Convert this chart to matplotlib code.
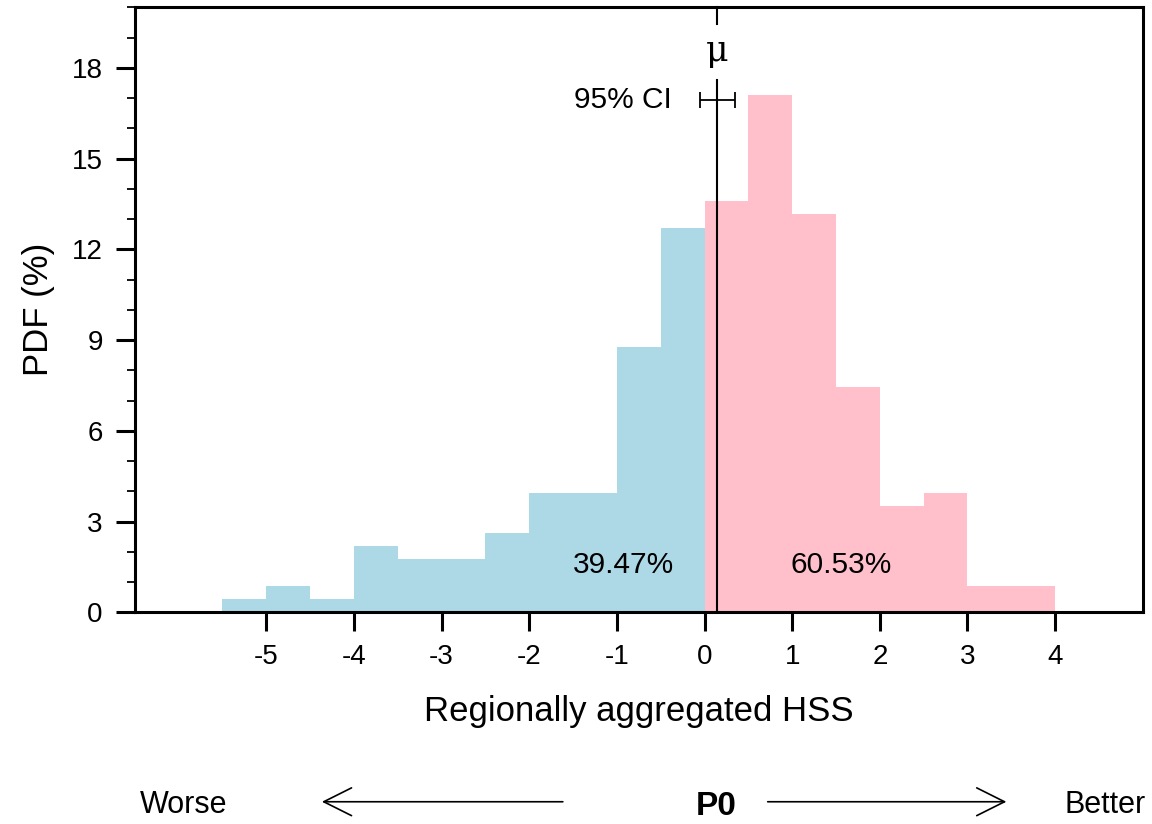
import numpy as np
import matplotlib
matplotlib.use("Agg")
import matplotlib.pyplot as plt

plt.rcParams['font.family'] = ['Liberation Sans', 'DejaVu Sans']

# histogram bins (HSS) and PDF values (%)
bin_edges = [-5.5, -5.0, -4.5, -4.0, -3.5, -3.0, -2.5, -2.0, -1.5, -1.0, -0.5,
             0.0, 0.5, 1.0, 1.5, 2.0, 2.5, 3.0, 3.5, 4.0]
pdf_vals = [0.44, 0.88, 0.44, 2.19, 1.75, 1.75, 2.63, 3.95, 3.95, 8.77, 12.72,
            13.60, 17.11, 13.16, 7.46, 3.51, 3.95, 0.88, 0.88]
mu = 0.14
ci_low, ci_high = -0.05, 0.35
pct_worse = "39.47%"
pct_better = "60.53%"

col_neg = '#add8e6'
col_pos = '#ffc0cb'

fig = plt.figure(figsize=(11.52, 8.24), dpi=100)
ax = fig.add_axes([0.117, 0.257, 0.875, 0.734])

left = np.array(bin_edges[:-1])
widths = np.diff(bin_edges)
colors = [col_neg if l < 0 else col_pos for l in left]
ax.bar(left, pdf_vals, width=widths, align='edge', color=colors, linewidth=0, zorder=1)

# mean line, CI
ax.plot([mu, mu], [0, 17.6], color='black', lw=1.5, zorder=3)
ax.plot([mu, mu], [19.45, 20], color='black', lw=1.5, zorder=3, clip_on=False)
ax.text(mu, 18.55, 'μ', ha='center', va='center', fontsize=25,
        family=['DejaVu Serif'])
ax.errorbar([mu], [16.95], xerr=[[mu - ci_low], [ci_high - mu]], fmt='none',
            ecolor='black', elinewidth=1.3, capsize=6, capthick=1.3, zorder=3)
ax.text(-0.37, 16.95, '95% CI', ha='right', va='center', fontsize=21.5)

ax.text(-0.93, 1.55, pct_worse, ha='center', va='center', fontsize=21.5)
ax.text(1.56, 1.55, pct_better, ha='center', va='center', fontsize=21.5)

ax.set_xlim(-6.5, 5)
ax.set_ylim(0, 20)
ax.set_xticks(np.arange(-5, 5, 1))
ax.set_xticklabels([str(v) for v in range(-5, 5)])
ax.set_yticks(np.arange(0, 19, 3))
ax.set_yticks(np.arange(0, 21, 1), minor=True)
ax.tick_params(axis='both', which='major', direction='out', length=14, width=2.2,
               labelsize=20, pad=9)
ax.tick_params(axis='y', which='minor', direction='out', length=6, width=1.3)
ax.tick_params(axis='x', which='minor', length=0)
for s in ax.spines.values():
    s.set_linewidth(2.2)

ax.set_xlabel('Regionally aggregated HSS', fontsize=25, labelpad=18)
ax.set_ylabel('PDF (%)', fontsize=25, labelpad=12)

# direction annotation at the bottom
fig.text(0.159, 0.023, 'Worse', ha='center', va='center', fontsize=22)
fig.text(0.959, 0.023, 'Better', ha='center', va='center', fontsize=22)
fig.text(0.6215, 0.021, 'P0', ha='center', va='center', fontsize=24, fontweight='bold')
arrow_style = '->,head_length=20,head_width=10'
fig.add_artist(matplotlib.patches.FancyArrowPatch((0.491, 0.027), (0.277, 0.027),
               transform=fig.transFigure, arrowstyle=arrow_style,
               lw=1.2, color='black', mutation_scale=1))
fig.add_artist(matplotlib.patches.FancyArrowPatch((0.664, 0.027), (0.876, 0.027),
               transform=fig.transFigure, arrowstyle=arrow_style,
               lw=1.2, color='black', mutation_scale=1))

fig.savefig('out.png', dpi=100)
